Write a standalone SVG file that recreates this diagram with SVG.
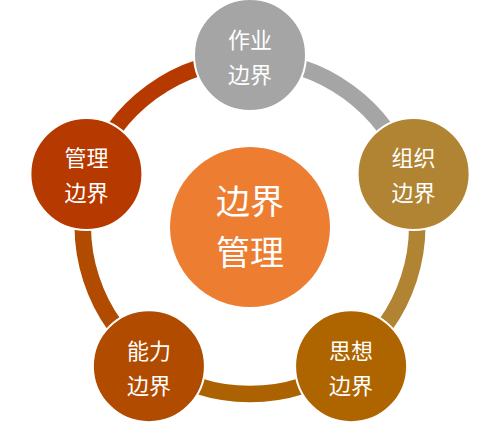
<svg xmlns="http://www.w3.org/2000/svg" width="500" height="425" viewBox="0 0 500 425">
<style>
.arc{fill:none;stroke-width:16.5}
.node{stroke:#fff;stroke-width:2}
.t{font-family:"Noto Sans CJK SC","Noto Sans CJK JP",sans-serif;fill:#fff;text-anchor:middle;font-size:22px}
.tc{font-size:34px}
</style>
<rect width="500" height="425" fill="#fff"/>
<g id="connectors">
<path class="arc" stroke="#A5A5A5" d="M250 60 A167 167 0 0 1 408.83 175.39"/>
<path class="arc" stroke="#B08433" d="M408.83 175.39 A167 167 0 0 1 348.16 362.11"/>
<path class="arc" stroke="#AC6200" d="M348.16 362.11 A167 167 0 0 1 151.84 362.11"/>
<path class="arc" stroke="#B04B00" d="M151.84 362.11 A167 167 0 0 1 91.17 175.39"/>
<path class="arc" stroke="#B63A00" d="M91.17 175.39 A167 167 0 0 1 250 60"/>
</g>
<g id="center">
<circle cx="250" cy="227" r="80" fill="#ED7D31"/>
<text class="t tc" x="250" y="214">边界</text>
<text class="t tc" x="250" y="265">管理</text>
</g>
<g id="n-top">
<circle class="node" cx="250" cy="55" r="56" fill="#A5A5A5"/>
<text class="t" x="250" y="47.5">作业</text>
<text class="t" x="250" y="82.5">边界</text>
</g>
<g id="n-right">
<circle class="node" cx="413.6" cy="174" r="56" fill="#B08433"/>
<text class="t" x="413.6" y="166">组织</text>
<text class="t" x="413.6" y="201">边界</text>
</g>
<g id="n-bottomright">
<circle class="node" cx="351.1" cy="366.2" r="56" fill="#AE6500"/>
<text class="t" x="351.1" y="358.5">思想</text>
<text class="t" x="351.1" y="393.5">边界</text>
</g>
<g id="n-bottomleft">
<circle class="node" cx="148.9" cy="366.2" r="56" fill="#B04B00"/>
<text class="t" x="148.9" y="358.5">能力</text>
<text class="t" x="148.9" y="393.5">边界</text>
</g>
<g id="n-left">
<circle class="node" cx="86.4" cy="174" r="56" fill="#B63A00"/>
<text class="t" x="86.4" y="166">管理</text>
<text class="t" x="86.4" y="201">边界</text>
</g>
</svg>
